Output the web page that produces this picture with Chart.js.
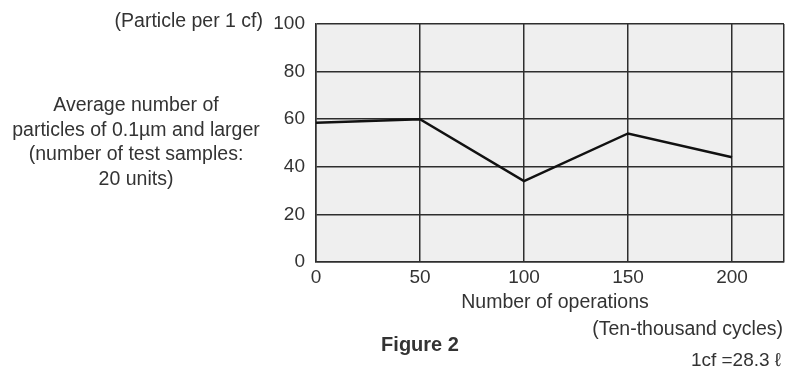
<!DOCTYPE html>
<html>
<head>
<meta charset="utf-8">
<script src="https://cdn.jsdelivr.net/npm/chart.js@4/dist/chart.umd.min.js"></script>
<style>
  html, body { margin: 0; padding: 0; background: #fff; }
  #wrap { width: 798px; height: 367px; position: relative; }
</style>
</head>
<body>
<div id="wrap"><canvas id="chart"></canvas></div>
<script>
// values
const operations = [0, 50, 100, 150, 200];
const particles = [58.5, 60, 34, 54, 44];
const xTicks = [0, 50, 100, 150, 200];
const yTicks = [0, 20, 40, 60, 80, 100];
const xMax = 225;

const yTitle = ['Average number of', 'particles of 0.1\u00b5m and larger', '(number of test samples:', '20 units)'];
const unitLabel = '(Particle per 1 cf)';
const xTitle = 'Number of operations';
const xUnit = '(Ten-thousand cycles)';
const figLabel = 'Figure 2';
const note = '1cf =28.3 \u2113';

const FONT = '"Liberation Sans", Arial, Helvetica, sans-serif';
const TEXT = '#333';
const GRID = '#2e2e2e';

const plotBg = {
  id: 'plotBg',
  beforeDraw(chart) {
    const { ctx, chartArea: a } = chart;
    ctx.save();
    ctx.fillStyle = '#efefef';
    ctx.fillRect(a.left, a.top, a.right - a.left, a.bottom - a.top);
    ctx.restore();
  }
};

const labels = {
  id: 'labels',
  afterDraw(chart) {
    const { ctx } = chart;
    ctx.save();
    ctx.fillStyle = TEXT;
    ctx.textBaseline = 'middle';
    ctx.font = '19.5px ' + FONT;

    ctx.textAlign = 'right';
    ctx.fillText(unitLabel, 263, 22);

    ctx.textAlign = 'center';
    yTitle.forEach((t, i) => ctx.fillText(t, 136, 106 + i * 24.5));
    ctx.fillText(xTitle, 555, 303);

    ctx.textAlign = 'right';
    ctx.fillText(xUnit, 783, 330);
    ctx.font = '19px ' + FONT;
    ctx.fillText(note, 781, 361);

    ctx.textAlign = 'center';
    ctx.font = '600 20px ' + FONT;
    ctx.fillText(figLabel, 420, 345);
    ctx.restore();
  }
};

new Chart(document.getElementById('chart'), {
  type: 'line',
  data: {
    datasets: [{
      data: operations.map((x, i) => ({ x, y: particles[i] })),
      borderColor: '#111',
      borderWidth: 2.5,
      pointRadius: 0,
      tension: 0,
      fill: false
    }]
  },
  options: {
    responsive: true,
    maintainAspectRatio: false,
    animation: false,
    layout: { padding: { top: 24, right: 14, bottom: 0, left: 0 } },
    plugins: { legend: { display: false }, tooltip: { enabled: false } },
    scales: {
      x: {
        type: 'linear',
        min: 0,
        max: xMax,
        afterBuildTicks: axis => { axis.ticks = xTicks.concat([xMax]).map(v => ({ value: v })); },
        afterFit: axis => { axis.height = 105; },
        grid: { color: GRID, lineWidth: 1.5, drawTicks: false },
        border: { color: GRID, width: 1.5 },
        ticks: {
          padding: 4,
          color: TEXT,
          font: { family: FONT, size: 19 },
          maxRotation: 0,
          autoSkip: false,
          callback: v => (xTicks.includes(v) ? String(v) : '')
        }
      },
      y: {
        min: 0,
        max: 100,
        afterBuildTicks: axis => { axis.ticks = yTicks.map(v => ({ value: v })); },
        afterFit: axis => { axis.width = 316; },
        grid: { color: GRID, lineWidth: 1.5, drawTicks: false },
        border: { color: GRID, width: 1.5 },
        ticks: {
          padding: 11,
          color: TEXT,
          font: { family: FONT, size: 19 }
        }
      }
    }
  },
  plugins: [plotBg, labels]
});
</script>
</body>
</html>
